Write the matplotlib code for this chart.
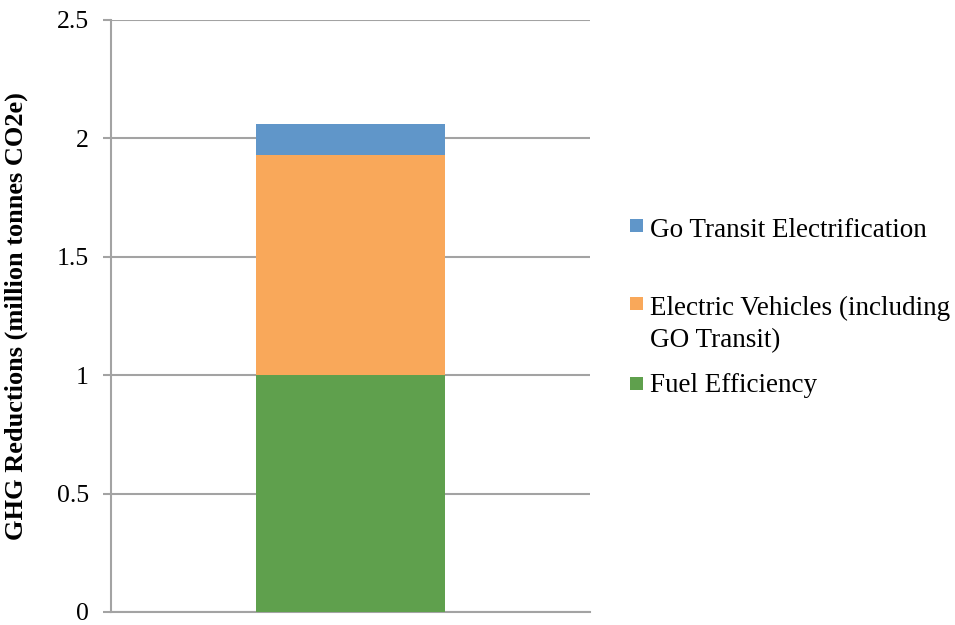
import matplotlib.pyplot as plt
from matplotlib.patches import Rectangle

# GHG reductions by measure (million tonnes CO2e), bottom to top
series = ['Fuel Efficiency', 'Electric Vehicles (including\nGO Transit)', 'Go Transit Electrification']
values = [1.0, 0.93, 0.13]
colors = ['#5FA04D', '#F9A85A', '#6096C9']
yticks = [0, 0.5, 1, 1.5, 2, 2.5]
yticklabels = ['0', '0.5', '1', '1.5', '2', '2.5']

plt.rcParams['font.family'] = ['Liberation Serif', 'DejaVu Serif']

fig = plt.figure(figsize=(9.55, 6.25), dpi=100)
ax = fig.add_axes([0.1162, 0.0208, 0.5016, 0.9472])

grid_c = '#A3A3A3'
bottom = 0
for v, c in zip(values, colors):
    ax.bar(0, v, width=0.396, bottom=bottom, color=c, zorder=3)
    bottom += v

ax.set_xlim(-0.5, 0.5)
ax.set_ylim(0, 2.5)
ax.set_yticks(yticks)
ax.set_yticklabels(yticklabels, fontsize=18.5)
ax.set_xticks([])
ax.yaxis.grid(True, color=grid_c, linewidth=1.5, zorder=0)
ax.tick_params(axis='y', length=6, width=1.5, color=grid_c, pad=10)
for s in ['top', 'right']:
    ax.spines[s].set_visible(False)
for s in ['left', 'bottom']:
    ax.spines[s].set_color(grid_c)
    ax.spines[s].set_linewidth(1.5)
ax.set_ylabel('GHG Reductions (million tonnes CO2e)', fontsize=19, fontweight='bold')
ax.yaxis.set_label_coords(-0.173, 0.5)

# legend, top entry first: square top, baseline of each text line (pixels)
W, H = 955, 625
sq_top = [219, 297, 377]
baselines = [[237], [315, 347], [392]]
for lab, c, top, bls in zip(series[::-1], colors[::-1], sq_top, baselines):
    fig.patches.append(Rectangle((630 / W, 1 - (top + 13) / H), 13 / W, 13 / H,
                                 transform=fig.transFigure, facecolor=c, edgecolor='none'))
    for line, bl in zip(lab.split('\n'), bls):
        fig.text(650 / W, 1 - bl / H, line, fontsize=19.5, va='baseline', ha='left')

fig.savefig('out.png', dpi=100)
